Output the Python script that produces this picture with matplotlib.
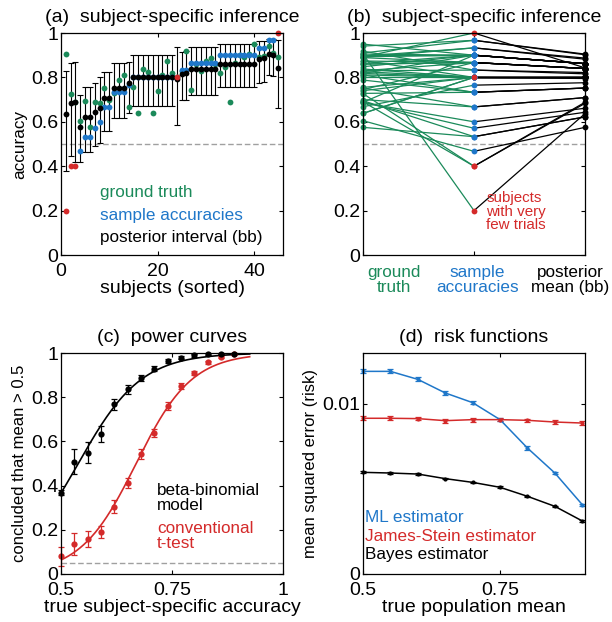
import numpy as np
import matplotlib
matplotlib.use('Agg')
import matplotlib.pyplot as plt

plt.rcParams['font.family'] = ['Liberation Sans', 'DejaVu Sans']
plt.rcParams['font.size'] = 12.3
plt.rcParams['xtick.labelsize'] = 14
plt.rcParams['ytick.labelsize'] = 14
plt.rcParams['axes.titlesize'] = 14

GREEN = '#1b8a5a'
BLUE = '#1f77c9'
RED = '#d42a2a'
GREY = '#a0a0a0'

# subject-level data, sorted by sample accuracy
ground_truth = [0.905, 0.727, 0.69, 0.605, 0.695, 0.575, 0.688, 0.686, 0.752, 0.70,
                0.728, 0.788, 0.811, 0.668, 0.755, 0.638, 0.838, 0.826, 0.638, 0.74,
                0.811, 0.876, 0.818, 0.80, 0.83, 0.918, 0.745, 0.86, 0.83, 0.874,
                0.889, 0.86, 0.818, 0.848, 0.688, 0.863, 0.90, 0.893, 0.905, 0.95,
                0.89, 0.896, 0.941, 0.91, 0.892]
sample_acc = [0.2, 0.4, 0.4, 0.467, 0.533, 0.533, 0.571, 0.6, 0.667, 0.667,
              0.733, 0.733, 0.733, 0.765, 0.8, 0.8, 0.8, 0.8, 0.8, 0.8,
              0.8, 0.8, 0.8, 0.8, 0.833, 0.833, 0.867, 0.867, 0.867, 0.867,
              0.867, 0.867, 0.9, 0.9, 0.9, 0.9, 0.9, 0.9, 0.9, 0.9,
              0.933, 0.933, 0.967, 0.967, 1.0]
post_mean = [0.637, 0.683, 0.688, 0.575, 0.622, 0.622, 0.643, 0.661, 0.709, 0.709,
             0.752, 0.752, 0.752, 0.776, 0.80, 0.80, 0.80, 0.80, 0.80, 0.80,
             0.80, 0.80, 0.80, 0.795, 0.816, 0.822, 0.84, 0.84, 0.84, 0.84,
             0.84, 0.84, 0.862, 0.862, 0.862, 0.862, 0.862, 0.862, 0.862, 0.862,
             0.882, 0.887, 0.905, 0.902, 0.843]
ci_low = [0.38, 0.445, 0.42, 0.42, 0.465, 0.465, 0.49, 0.505, 0.56, 0.56,
          0.615, 0.615, 0.615, 0.64, 0.67, 0.67, 0.67, 0.67, 0.67, 0.67,
          0.67, 0.67, 0.67, 0.585, 0.70, 0.70, 0.72, 0.72, 0.72, 0.72,
          0.72, 0.72, 0.755, 0.755, 0.755, 0.755, 0.755, 0.755, 0.755, 0.755,
          0.775, 0.78, 0.81, 0.805, 0.66]
ci_high = [0.83, 0.865, 0.87, 0.72, 0.757, 0.757, 0.775, 0.80, 0.826, 0.826,
           0.866, 0.866, 0.866, 0.87, 0.90, 0.90, 0.90, 0.90, 0.90, 0.90,
           0.90, 0.90, 0.90, 0.935, 0.915, 0.92, 0.935, 0.935, 0.935, 0.935,
           0.935, 0.935, 0.95, 0.95, 0.95, 0.95, 0.95, 0.95, 0.95, 0.95,
           0.965, 0.965, 0.975, 0.975, 0.97]
few_trials = [1, 2, 3, 24, 45]  # subject numbers drawn in red

# power curves
power_x = [0.5, 0.53, 0.56, 0.59, 0.62, 0.65, 0.68, 0.71, 0.74, 0.77, 0.80, 0.83, 0.86, 0.89]
bb_power = [0.368, 0.508, 0.549, 0.633, 0.768, 0.836, 0.887, 0.929, 0.964, 0.979,
            0.989, 0.995, 0.997, 0.997]
bb_err = [0.01, 0.056, 0.047, 0.036, 0.026, 0.021, 0.013, 0.01, 0.008, 0.006,
          0.005, 0.004, 0.003, 0.003]
tt_power = [0.080, 0.137, 0.158, 0.189, 0.305, 0.411, 0.543, 0.639, 0.761, 0.850,
            0.910, 0.958, 0.982, 0.994]
tt_err = [0.044, 0.049, 0.038, 0.026, 0.03, 0.024, 0.022, 0.019, 0.019, 0.015,
          0.01, 0.008, 0.006, 0.004]

# risk functions
risk_x = [0.5, 0.55, 0.6, 0.65, 0.7, 0.75, 0.8, 0.85, 0.9]
ml_risk = [0.01192, 0.01192, 0.01145, 0.01065, 0.01008, 0.00908, 0.00741, 0.00594, 0.00408]
js_risk = [0.00916, 0.00916, 0.00914, 0.00902, 0.00908, 0.00908, 0.00904, 0.00894, 0.00888]
bayes_risk = [0.00598, 0.00594, 0.00588, 0.00561, 0.00539, 0.00510, 0.00457, 0.00398, 0.00312]
ml_err = [0.00012, 0.00012, 0.00012, 0.00011, 0.0001, 0.0001, 0.0001, 0.00008, 0.00006]
js_err = [0.00012, 0.00012, 0.00011, 0.00011, 0.00011, 0.0001, 0.0001, 0.0001, 0.0001]
bayes_err = [0.00005, 0.00005, 0.00005, 0.00005, 0.00005, 0.00005, 0.00004, 0.00004, 0.00004]


def style_axes(ax):
    ax.tick_params(direction='in', length=3, width=0.8, top=True, right=True)
    ax.tick_params(axis='y', pad=2)
    ax.tick_params(axis='x', pad=6)
    for s in ax.spines.values():
        s.set_linewidth(0.9)


fig = plt.figure(figsize=(6.12, 6.22), dpi=100)
W, H = 612, 622


def add_axes(left, top, right, bottom):
    return fig.add_axes([left / W, (H - bottom) / H, (right - left) / W, (bottom - top) / H])


ax_a = add_axes(61, 33, 283, 255)
ax_b = add_axes(363, 33, 585, 255)
ax_c = add_axes(61, 353, 283, 574)
ax_d = add_axes(363, 353, 585, 574)

# (a) subject-specific inference
subj = np.arange(1, len(sample_acc) + 1)
gt = np.array(ground_truth)
acc = np.array(sample_acc)
pm = np.array(post_mean)
lo = np.array(ci_low)
hi = np.array(ci_high)
red_mask = np.isin(subj, few_trials)

ax_a.axhline(0.5, color=GREY, ls='--', lw=1.0, dashes=(4, 2))
ax_a.errorbar(subj, pm, yerr=[pm - lo, hi - pm], fmt='none', ecolor='black',
              elinewidth=0.8, capsize=2.2, capthick=0.8)
ax_a.plot(subj, gt, 'o', color=GREEN, ms=4.2, mec='none')
ax_a.plot(subj[~red_mask], acc[~red_mask], 'o', color=BLUE, ms=4.2, mec='none')
ax_a.plot(subj, pm, 'o', color='black', ms=4.2, mec='none')
ax_a.plot(subj[red_mask], acc[red_mask], 'o', color=RED, ms=4.2, mec='none', clip_on=False)
ax_a.set_xlim(0, 46)
ax_a.set_ylim(0, 1)
ax_a.set_xticks([0, 20, 40])
ax_a.set_yticks([0, 0.2, 0.4, 0.6, 0.8, 1])
ax_a.set_yticklabels(['0', '0.2', '0.4', '0.6', '0.8', '1'])
ax_a.set_xlabel('subjects (sorted)', fontsize=14, labelpad=0)
ax_a.set_ylabel('accuracy', labelpad=3)
ax_a.set_title('(a)  subject-specific inference', pad=8)
ax_a.text(8, 0.28, 'ground truth', color=GREEN, va='center')
ax_a.text(8, 0.18, 'sample accuracies', color=BLUE, va='center')
ax_a.text(8, 0.08, 'posterior interval (bb)', color='black', va='center')
style_axes(ax_a)

# (b) shrinkage from sample accuracies to posterior means
ax_b.axhline(0.5, color=GREY, ls='--', lw=1.0, dashes=(4, 2))
for g, a, p in zip(gt, acc, pm):
    ax_b.plot([1, 2], [g, a], color=GREEN, lw=0.9, clip_on=False)
    ax_b.plot([2, 3], [a, p], color='black', lw=0.9, clip_on=False)
ax_b.plot(np.ones_like(gt), gt, 'o', color=GREEN, ms=4.2, mec='none', clip_on=False)
ax_b.plot(np.full(len(acc), 2.0)[~red_mask], acc[~red_mask], 'o', color=BLUE, ms=4.2,
          mec='none', clip_on=False)
ax_b.plot(np.full(len(acc), 2.0)[red_mask], acc[red_mask], 'o', color=RED, ms=4.2,
          mec='none', clip_on=False)
ax_b.plot(np.full(len(pm), 3.0), pm, 'o', color='black', ms=4.2, mec='none', clip_on=False)
ax_b.set_xlim(1, 3)
ax_b.set_ylim(0, 1)
ax_b.set_xticks([1, 2, 3])
ax_b.set_xticklabels([])
ax_b.set_yticks([0, 0.2, 0.4, 0.6, 0.8, 1])
ax_b.set_yticklabels(['0', '0.2', '0.4', '0.6', '0.8', '1'])
ax_b.set_title('(b)  subject-specific inference', pad=8)
ax_b.text(2.11, 0.194, 'subjects\nwith very\nfew trials', color=RED, va='center',
          fontsize=10.9, linespacing=0.95)
ax_b.text(1.28, -0.113, 'ground\ntruth', color=GREEN, ha='center', va='center',
          fontsize=12.3, linespacing=1.0)
ax_b.text(2.03, -0.113, 'sample\naccuracies', color=BLUE, ha='center', va='center',
          fontsize=12.3, linespacing=1.0)
ax_b.text(2.87, -0.113, 'posterior\nmean (bb)', color='black', ha='center', va='center',
          fontsize=12.3, linespacing=1.0)
style_axes(ax_b)


# (c) power curves with a logistic fit through the simulated points
def logistic_fit(x, p):
    x = np.asarray(x)
    p = np.clip(np.asarray(p), 0.01, 0.99)
    w = p * (1 - p)
    b, a = np.polyfit(x, np.log(p / (1 - p)), 1, w=w)
    xs = np.linspace(0.5, 0.925, 200)
    return xs, 1 / (1 + np.exp(-(a + b * xs)))


ax_c.axhline(0.05, color=GREY, ls='--', lw=1.0, dashes=(4, 2))
xs, ys = logistic_fit(power_x, bb_power)
ax_c.plot(xs, ys, color='black', lw=1.2)
xs, ys = logistic_fit(power_x, tt_power)
ax_c.plot(xs, ys, color=RED, lw=1.2)
ax_c.errorbar(power_x, tt_power, yerr=tt_err, fmt='o', color=RED, ms=4.5, mec='none',
              elinewidth=0.9, capsize=2, capthick=0.9, clip_on=False)
ax_c.errorbar(power_x, bb_power, yerr=bb_err, fmt='o', color='black', ms=4.5, mec='none',
              elinewidth=0.9, capsize=2, capthick=0.9, clip_on=False)
ax_c.set_xlim(0.5, 1)
ax_c.set_ylim(0, 1)
ax_c.set_xticks([0.5, 0.75, 1])
ax_c.set_xticklabels(['0.5', '0.75', '1'])
ax_c.set_yticks([0, 0.2, 0.4, 0.6, 0.8, 1])
ax_c.set_yticklabels(['0', '0.2', '0.4', '0.6', '0.8', '1'])
ax_c.set_xlabel('true subject-specific accuracy', fontsize=14, labelpad=0)
ax_c.set_ylabel('concluded that mean > 0.5', fontsize=12, labelpad=3)
ax_c.set_title('(c)  power curves', pad=8)
ax_c.text(0.716, 0.345, 'beta-binomial\nmodel', color='black', va='center', linespacing=1.0)
ax_c.text(0.716, 0.17, 'conventional\nt-test', color=RED, va='center', linespacing=1.0)
style_axes(ax_c)

# (d) risk functions of the three estimators
for vals, err, col in [(ml_risk, ml_err, BLUE), (js_risk, js_err, RED),
                       (bayes_risk, bayes_err, 'black')]:
    ax_d.errorbar(risk_x, vals, yerr=err, fmt='.-', color=col, ms=4, lw=1.1,
                  elinewidth=0.9, capsize=2, capthick=0.9, clip_on=False)
ax_d.set_xlim(0.5, 0.905)
ax_d.set_ylim(0, 0.013)
ax_d.set_xticks([0.5, 0.75])
ax_d.set_xticklabels(['0.5', '0.75'])
ax_d.set_yticks([0, 0.01])
ax_d.set_yticklabels(['0', '0.01'])
ax_d.set_xlabel('true population mean', fontsize=14, labelpad=0)
ax_d.set_ylabel('mean squared error (risk)', fontsize=12, labelpad=3)
ax_d.set_title('(d)  risk functions', pad=8)
ax_d.text(0.503, 0.0033, 'ML estimator', color=BLUE, va='center')
ax_d.text(0.503, 0.00222, 'James-Stein estimator', color=RED, va='center')
ax_d.text(0.503, 0.00114, 'Bayes estimator', color='black', va='center')
style_axes(ax_d)

fig.savefig('out.png', dpi=100)
